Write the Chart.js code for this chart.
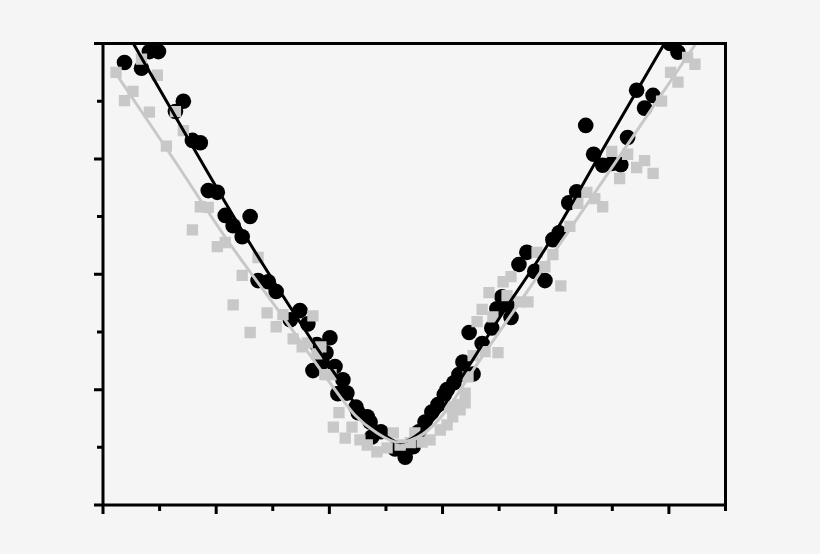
<!DOCTYPE html>
<html>
<head>
<meta charset="utf-8">
<script src="https://cdn.jsdelivr.net/npm/chart.js@4.4.1/dist/chart.umd.min.js"></script>
<style>
html,body{margin:0;padding:0;background:#f5f5f5;}
#wrap{width:820px;height:554px;}
</style>
</head>
<body>
<div id="wrap"><canvas id="c" width="820" height="554"></canvas></div>
<script>
// Black circles (series 1)
const blackX = [0.38,0.68,0.82,0.98,1.28,1.42,1.58,1.72,1.86,2.02,2.16,2.60,2.30,2.46,2.74,2.92,3.06,3.48,3.31,3.62,4.01,3.78,3.94,3.87,3.71,4.10,4.24,4.31,4.15,4.47,4.51,4.67,4.72,4.91,4.75,5.16,5.34,5.48,5.69,5.92,6.08,6.20,6.29,6.36,6.47,6.54,6.70,6.87,6.96,7.05,7.14,7.21,7.35,7.49,7.63,7.81,7.95,8.06,8.23,8.37,8.53,8.67,8.83,8.99,9.15,9.27,9.43,9.57,9.72,10.02,10.16,6.03,5.81,5.58];
const blackY = [7.67,7.57,7.86,7.86,6.82,7.00,6.32,6.28,5.45,5.42,5.02,5.00,4.84,4.65,3.89,3.87,3.70,3.37,3.21,3.14,2.90,2.78,2.64,2.47,2.33,2.40,2.17,1.94,1.93,1.70,1.60,1.53,1.44,1.27,1.18,0.97,0.83,1.01,1.44,1.74,2.00,2.12,2.26,2.48,2.99,2.27,2.80,3.07,3.40,3.61,3.47,3.25,4.17,4.38,4.05,3.89,4.60,4.72,5.24,5.43,6.58,6.08,5.89,5.92,5.90,6.37,7.19,6.88,7.10,8.00,7.85,1.91,1.61,1.27];

// Grey squares (series 2)
const greyX = [0.23,0.38,0.53,0.68,0.82,0.96,1.12,1.28,1.42,1.58,1.72,1.86,2.02,2.16,2.74,2.46,2.30,2.90,3.18,3.06,3.71,2.60,3.36,3.52,3.61,3.85,3.78,3.92,4.03,4.17,4.07,4.28,4.40,4.54,4.67,4.84,5.02,5.13,5.25,5.43,5.51,5.64,5.78,5.96,6.08,6.18,6.31,6.40,6.40,6.27,6.45,6.54,6.75,6.98,6.61,6.89,6.70,6.82,7.14,7.37,7.51,7.07,7.21,7.67,7.81,7.95,8.09,8.25,8.39,8.55,8.69,8.83,8.99,9.27,9.57,9.43,9.72,9.13,9.87,10.03,10.16,10.33,10.46,6.13];
const greyY = [7.50,7.01,7.17,7.73,6.81,7.45,6.22,6.82,6.49,4.77,5.17,5.16,4.48,4.55,4.29,3.98,3.47,3.33,3.30,3.09,3.28,2.99,2.88,2.74,2.81,2.74,2.62,2.26,2.26,1.60,1.35,1.16,1.35,1.13,1.04,0.92,0.99,1.25,1.04,1.08,1.25,1.09,1.13,1.30,1.39,1.53,1.65,1.77,1.94,1.74,2.22,2.59,2.66,2.64,3.18,3.26,3.39,3.68,3.63,3.52,3.52,3.87,3.96,4.38,4.13,4.34,3.80,4.83,5.23,5.42,5.31,5.17,6.13,6.08,5.97,5.85,5.75,5.66,7.00,7.50,7.33,7.76,7.64,1.70];

// Fitted curves
const blackFitX = [0.39,1.51,2.48,3.66,4.19,4.54,4.90,5.25,5.60,5.96,6.31,7.01,7.84,8.90,10.10];
const blackFitY = [8.25,6.34,4.72,2.90,2.14,1.63,1.27,1.08,1.25,1.63,2.17,3.25,4.48,6.28,8.30];
const greyFitX = [0.22,1.19,2.19,3.13,4.19,4.45,4.81,5.21,5.64,6.06,6.54,7.37,8.37,9.43,10.49];
const greyFitY = [7.49,6.08,4.60,3.33,1.88,1.56,1.27,1.09,1.22,1.63,2.34,3.52,4.95,6.48,8.02];

// Axis ticks (no labels shown in the original)
const xTicks = [0,1,2,3,4,5,6,7,8,9,10,11];
const xMajor = [0,2,4,6,8,10];
const yTicks = [0,1,2,3,4,5,6,7,8];
const yMajor = [0,2,4,6,8];

const pts = (xs, ys) => xs.map((x, i) => ({x: x, y: ys[i]}));

const framePlugin = {
  id: 'frame',
  beforeDraw(chart) {
    const ctx = chart.ctx;
    ctx.save();
    ctx.fillStyle = '#f5f5f5';
    ctx.fillRect(0, 0, chart.width, chart.height);
    ctx.restore();
  },
  afterDraw(chart) {
    const {ctx, chartArea: a, scales: {x, y}} = chart;
    ctx.save();
    ctx.strokeStyle = '#000';
    ctx.lineWidth = 3;
    ctx.lineCap = 'butt';
    ctx.strokeRect(a.left, a.top, a.right - a.left, a.bottom - a.top);
    ctx.beginPath();
    xTicks.forEach(v => {
      const px = x.getPixelForValue(v);
      const len = xMajor.includes(v) ? 9 : 6;
      ctx.moveTo(px, a.bottom);
      ctx.lineTo(px, a.bottom + len);
    });
    yTicks.forEach(v => {
      const py = y.getPixelForValue(v);
      const len = yMajor.includes(v) ? 9 : 6;
      ctx.moveTo(a.left, py);
      ctx.lineTo(a.left - len, py);
    });
    ctx.stroke();
    ctx.restore();
  }
};

new Chart(document.getElementById('c'), {
  type: 'scatter',
  data: {
    datasets: [
      {
        label: 'black fit',
        data: pts(blackFitX, blackFitY),
        showLine: true,
        borderColor: '#000',
        borderWidth: 3,
        pointRadius: 0,
        cubicInterpolationMode: 'monotone',
        clip: 0,
        order: 2
      },
      {
        label: 'grey fit',
        data: pts(greyFitX, greyFitY),
        showLine: true,
        borderColor: '#c8c8c8',
        borderWidth: 3,
        pointRadius: 0,
        cubicInterpolationMode: 'monotone',
        clip: 0,
        order: 1
      },
      {
        label: 'grey squares',
        data: pts(greyX, greyY),
        pointStyle: 'rect',
        pointRadius: 8,
        pointBackgroundColor: '#c8c8c8',
        pointBorderWidth: 0,
        backgroundColor: '#c8c8c8',
        borderWidth: 0,
        clip: 0,
        order: 3
      },
      {
        label: 'black circles',
        data: pts(blackX, blackY),
        pointStyle: 'circle',
        pointRadius: 7.8,
        pointBackgroundColor: '#000',
        pointBorderWidth: 0,
        backgroundColor: '#000',
        borderWidth: 0,
        clip: 0,
        order: 4
      }
    ]
  },
  options: {
    responsive: false,
    animation: false,
    devicePixelRatio: 1,
    layout: {padding: {left: 103, right: 94.5, top: 43.5, bottom: 49}},
    plugins: {legend: {display: false}, tooltip: {enabled: false}},
    scales: {
      x: {type: 'linear', min: 0, max: 11, display: false},
      y: {type: 'linear', min: 0, max: 8, display: false}
    }
  },
  plugins: [framePlugin]
});
</script>
</body>
</html>
